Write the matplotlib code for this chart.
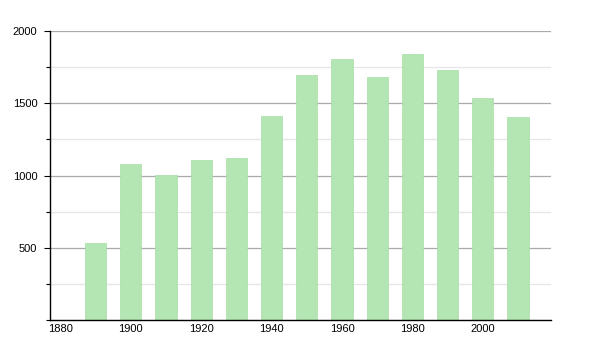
import matplotlib
matplotlib.use("Agg")
import matplotlib.pyplot as plt
from matplotlib.ticker import MultipleLocator

years = [1890, 1900, 1910, 1920, 1930, 1940, 1950, 1960, 1970, 1980, 1990, 2000, 2010]
population = [531, 1083, 1006, 1110, 1124, 1410, 1693, 1810, 1679, 1845, 1729, 1536, 1405]
x_ticks = [1880, 1900, 1920, 1940, 1960, 1980, 2000]
y_ticks = [500, 1000, 1500, 2000]

BAR = "#b3e6b3"

plt.rcParams["font.family"] = ["Liberation Sans", "DejaVu Sans"]

fig = plt.figure(figsize=(6, 3.5), dpi=100)
ax = fig.add_axes([0.083, 0.086, 0.835, 0.825])

ax.bar(years, population, width=6, color=BAR, edgecolor="#a8dca8", linewidth=0.5, zorder=2)

ax.set_xlim(1877, 2019.3)
ax.set_ylim(0, 2000)
ax.set_xticks(x_ticks)
ax.set_yticks(y_ticks)
ax.yaxis.set_minor_locator(MultipleLocator(250))

ax.grid(axis="y", which="major", color="#aaaaaa", lw=0.9, zorder=1)
ax.grid(axis="y", which="minor", color="#e6e6e6", lw=0.9, zorder=1)

for s in ["top", "right"]:
    ax.spines[s].set_visible(False)
ax.spines["left"].set_linewidth(1.0)
ax.spines["bottom"].set_linewidth(1.0)

ax.tick_params(axis="x", length=0, labelsize=8, pad=3)
ax.tick_params(axis="y", which="both", length=4, width=0.8, labelsize=8, pad=5)
ax.tick_params(axis="y", which="minor", length=3)

fig.savefig("out.png", dpi=100)
